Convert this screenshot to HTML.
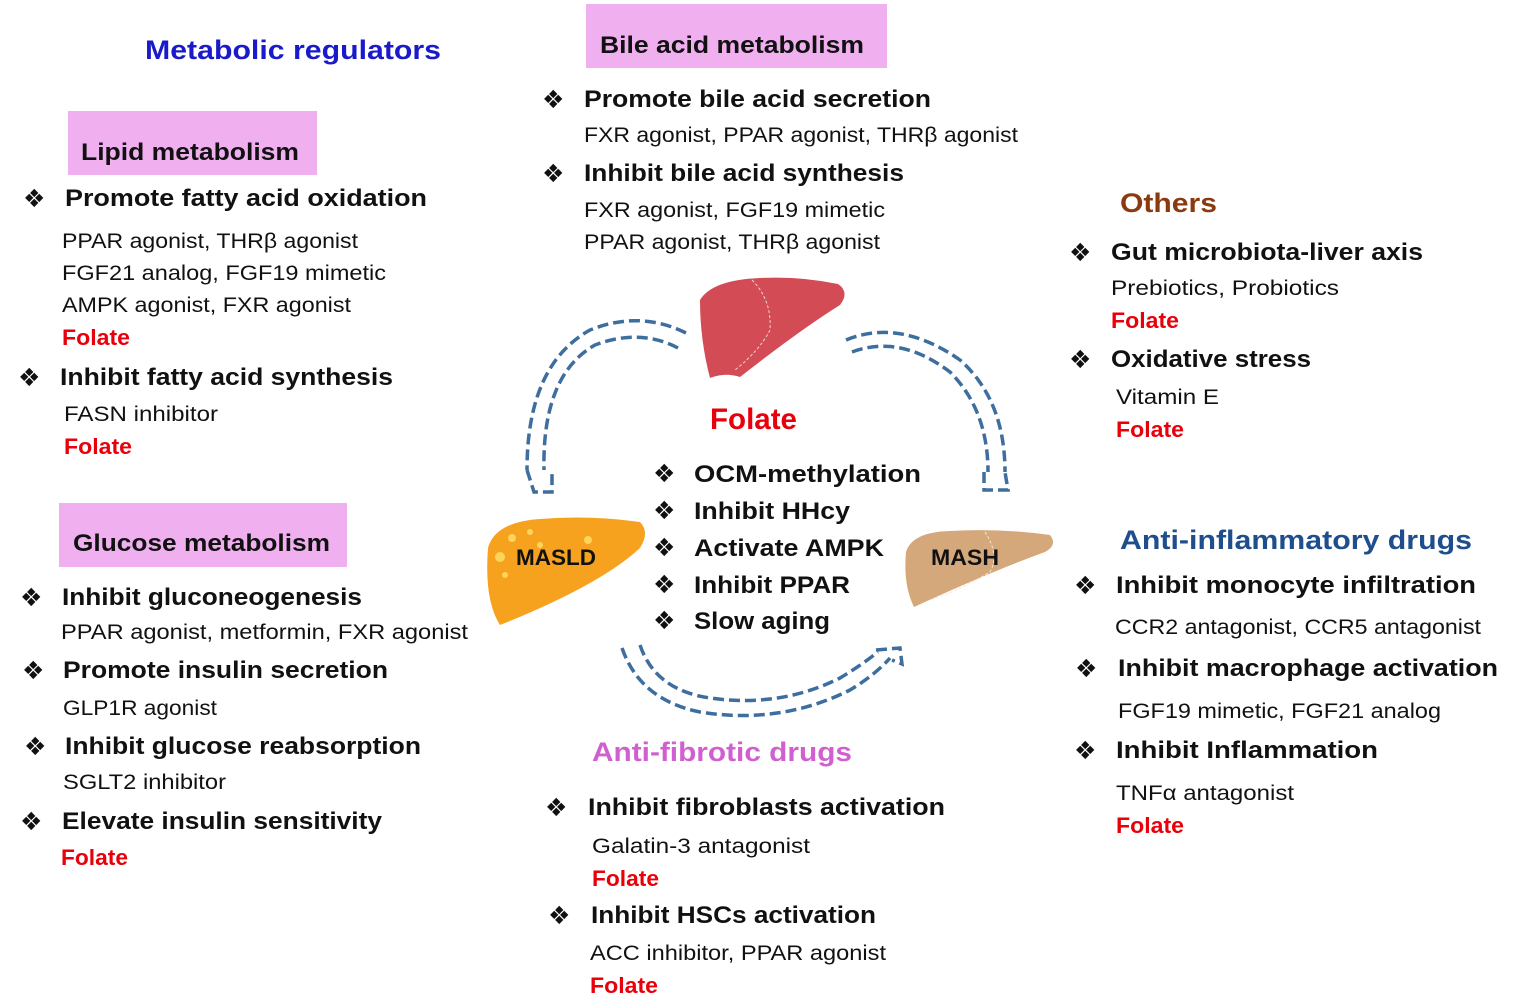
<!DOCTYPE html>
<html><head><meta charset="utf-8"><style>
html,body{margin:0;padding:0;background:#fff;}
svg{display:block;}
text{font-family:"Liberation Sans","DejaVu Sans",sans-serif;}
.h{font-weight:bold;font-size:27px;}
.s{font-weight:bold;font-size:24px;fill:#111;}
.r{font-size:21px;fill:#111;}
.f{font-weight:bold;font-size:22px;fill:#e8000b;}
.b{font-size:25px;fill:#111;font-family:"DejaVu Sans",sans-serif;}
.ar{fill:none;stroke:#3d6e9e;stroke-width:3.5;stroke-dasharray:11 5;}
</style></head><body>
<svg width="1535" height="1005" viewBox="0 0 1535 1005" xmlns="http://www.w3.org/2000/svg">
<rect x="586" y="4" width="301" height="64" fill="#f0b0f0"/>
<rect x="68" y="111" width="249" height="64" fill="#f0b0f0"/>
<rect x="59" y="503" width="288" height="64" fill="#f0b0f0"/>

<text class="h" x="145" y="59" fill="#1a1acc" textLength="296" lengthAdjust="spacingAndGlyphs">Metabolic regulators</text>
<text class="s" x="600" y="53" textLength="264" lengthAdjust="spacingAndGlyphs">Bile acid metabolism</text>
<text class="s" x="81" y="160" textLength="218" lengthAdjust="spacingAndGlyphs">Lipid metabolism</text>
<text class="s" x="73" y="551" textLength="257" lengthAdjust="spacingAndGlyphs">Glucose metabolism</text>

<text class="b" x="23" y="207">❖</text>
<text class="s" x="65" y="206" textLength="362" lengthAdjust="spacingAndGlyphs">Promote fatty acid oxidation</text>
<text class="r" x="62" y="248" textLength="296" lengthAdjust="spacingAndGlyphs">PPAR agonist, THRβ agonist</text>
<text class="r" x="62" y="280" textLength="324" lengthAdjust="spacingAndGlyphs">FGF21 analog, FGF19 mimetic</text>
<text class="r" x="62" y="312" textLength="289" lengthAdjust="spacingAndGlyphs">AMPK agonist, FXR agonist</text>
<text class="f" x="62" y="345" textLength="68" lengthAdjust="spacingAndGlyphs">Folate</text>
<text class="b" x="18" y="386">❖</text>
<text class="s" x="60" y="385" textLength="333" lengthAdjust="spacingAndGlyphs">Inhibit fatty acid synthesis</text>
<text class="r" x="64" y="421" textLength="154" lengthAdjust="spacingAndGlyphs">FASN inhibitor</text>
<text class="f" x="64" y="454" textLength="68" lengthAdjust="spacingAndGlyphs">Folate</text>

<text class="b" x="20" y="606">❖</text>
<text class="s" x="62" y="605" textLength="300" lengthAdjust="spacingAndGlyphs">Inhibit gluconeogenesis</text>
<text class="r" x="61" y="639" textLength="407" lengthAdjust="spacingAndGlyphs">PPAR agonist, metformin, FXR agonist</text>
<text class="b" x="22" y="679">❖</text>
<text class="s" x="63" y="678" textLength="325" lengthAdjust="spacingAndGlyphs">Promote insulin secretion</text>
<text class="r" x="63" y="715" textLength="154" lengthAdjust="spacingAndGlyphs">GLP1R agonist</text>
<text class="b" x="24" y="755">❖</text>
<text class="s" x="65" y="754" textLength="356" lengthAdjust="spacingAndGlyphs">Inhibit glucose reabsorption</text>
<text class="r" x="63" y="789" textLength="163" lengthAdjust="spacingAndGlyphs">SGLT2 inhibitor</text>
<text class="b" x="20" y="830">❖</text>
<text class="s" x="62" y="829" textLength="320" lengthAdjust="spacingAndGlyphs">Elevate insulin sensitivity</text>
<text class="f" x="61" y="865" textLength="67" lengthAdjust="spacingAndGlyphs">Folate</text>

<text class="b" x="542" y="108">❖</text>
<text class="s" x="584" y="107" textLength="347" lengthAdjust="spacingAndGlyphs">Promote bile acid secretion</text>
<text class="r" x="584" y="142" textLength="434" lengthAdjust="spacingAndGlyphs">FXR agonist, PPAR agonist, THRβ agonist</text>
<text class="b" x="542" y="182">❖</text>
<text class="s" x="584" y="181" textLength="320" lengthAdjust="spacingAndGlyphs">Inhibit bile acid synthesis</text>
<text class="r" x="584" y="217" textLength="301" lengthAdjust="spacingAndGlyphs">FXR agonist, FGF19 mimetic</text>
<text class="r" x="584" y="249" textLength="296" lengthAdjust="spacingAndGlyphs">PPAR agonist, THRβ agonist</text>

<text x="710" y="429" font-weight="bold" font-size="30" fill="#e8000b" textLength="87" lengthAdjust="spacingAndGlyphs">Folate</text>
<text class="b" x="653" y="482">❖</text>
<text class="s" x="694" y="482" textLength="227" lengthAdjust="spacingAndGlyphs">OCM-methylation</text>
<text class="b" x="653" y="519">❖</text>
<text class="s" x="694" y="519" textLength="156" lengthAdjust="spacingAndGlyphs">Inhibit HHcy</text>
<text class="b" x="653" y="556">❖</text>
<text class="s" x="694" y="556" textLength="190" lengthAdjust="spacingAndGlyphs">Activate AMPK</text>
<text class="b" x="653" y="593">❖</text>
<text class="s" x="694" y="593" textLength="156" lengthAdjust="spacingAndGlyphs">Inhibit PPAR</text>
<text class="b" x="653" y="629">❖</text>
<text class="s" x="694" y="629" textLength="136" lengthAdjust="spacingAndGlyphs">Slow aging</text>

<path d="M700 300 Q712 280 760 278 Q800 276 838 284 Q850 292 840 305 Q800 330 740 377 Q725 372 710 378 Q700 340 700 300 Z" fill="#d24b55"/>
<path d="M752 280 Q772 300 770 330 Q760 350 735 370" fill="none" stroke="#f4d0d0" stroke-width="1" stroke-dasharray="3 2"/>
<path d="M488 548 Q495 522 540 519 Q590 515 640 522 Q650 532 640 548 Q600 585 500 625 Q484 600 488 548 Z" fill="#f6a21e"/>
<g fill="#fcd55a"><circle cx="512" cy="538" r="4"/><circle cx="530" cy="532" r="3"/><circle cx="500" cy="557" r="5"/><circle cx="588" cy="540" r="4"/><circle cx="505" cy="575" r="3"/><circle cx="540" cy="545" r="3"/></g>
<path d="M906 552 Q912 532 950 531 Q1000 528 1050 535 Q1058 545 1045 552 Q990 572 914 607 Q903 585 906 552 Z" fill="#d4a87a"/>
<path d="M985 532 Q1000 555 990 572 Q960 590 930 600" fill="none" stroke="#f5e6d5" stroke-width="1" stroke-dasharray="3 2"/>
<text x="516" y="565" font-weight="bold" font-size="22" fill="#111" textLength="80" lengthAdjust="spacingAndGlyphs">MASLD</text>
<text x="931" y="565" font-weight="bold" font-size="22" fill="#111" textLength="68" lengthAdjust="spacingAndGlyphs">MASH</text>

<path class="ar" d="M686 333 Q640 310 590 330 Q527 365 527 470"/>
<path class="ar" d="M678 348 Q640 328 595 345 Q542 375 544 470"/>
<path class="ar" d="M527 470 L534 492 L552 492 L552 470"/>
<path class="ar" d="M846 340 Q900 318 960 360 Q1005 400 1005 472"/>
<path class="ar" d="M852 352 Q900 334 950 372 Q988 410 988 472"/>
<path class="ar" d="M984 472 L984 490 L1008 490 L1005 472"/>
<path class="ar" d="M622 648 Q640 700 700 712 Q780 725 850 690 Q875 675 890 658"/>
<path class="ar" d="M640 645 Q655 690 710 698 Q780 708 840 678 Q860 666 878 652"/>
<path class="ar" d="M876 650 L900 648 L902 664 L892 660"/>

<text class="h" x="1120" y="212" fill="#8b3a0f" textLength="97" lengthAdjust="spacingAndGlyphs">Others</text>
<text class="b" x="1069" y="261">❖</text>
<text class="s" x="1111" y="260" textLength="312" lengthAdjust="spacingAndGlyphs">Gut microbiota-liver axis</text>
<text class="r" x="1111" y="295" textLength="228" lengthAdjust="spacingAndGlyphs">Prebiotics, Probiotics</text>
<text class="f" x="1111" y="328" textLength="68" lengthAdjust="spacingAndGlyphs">Folate</text>
<text class="b" x="1069" y="368">❖</text>
<text class="s" x="1111" y="367" textLength="200" lengthAdjust="spacingAndGlyphs">Oxidative stress</text>
<text class="r" x="1116" y="404" textLength="103" lengthAdjust="spacingAndGlyphs">Vitamin E</text>
<text class="f" x="1116" y="437" textLength="68" lengthAdjust="spacingAndGlyphs">Folate</text>

<text class="h" x="1120" y="549" fill="#1f4e8c" textLength="352" lengthAdjust="spacingAndGlyphs">Anti-inflammatory drugs</text>
<text class="b" x="1074" y="594">❖</text>
<text class="s" x="1116" y="593" textLength="360" lengthAdjust="spacingAndGlyphs">Inhibit monocyte infiltration</text>
<text class="r" x="1115" y="634" textLength="366" lengthAdjust="spacingAndGlyphs">CCR2 antagonist, CCR5 antagonist</text>
<text class="b" x="1075" y="677">❖</text>
<text class="s" x="1118" y="676" textLength="380" lengthAdjust="spacingAndGlyphs">Inhibit macrophage activation</text>
<text class="r" x="1118" y="718" textLength="323" lengthAdjust="spacingAndGlyphs">FGF19 mimetic, FGF21 analog</text>
<text class="b" x="1074" y="759">❖</text>
<text class="s" x="1116" y="758" textLength="262" lengthAdjust="spacingAndGlyphs">Inhibit Inflammation</text>
<text class="r" x="1116" y="800" textLength="178" lengthAdjust="spacingAndGlyphs">TNFα antagonist</text>
<text class="f" x="1116" y="833" textLength="68" lengthAdjust="spacingAndGlyphs">Folate</text>

<text class="h" x="592" y="761" fill="#d060d0" textLength="260" lengthAdjust="spacingAndGlyphs">Anti-fibrotic drugs</text>
<text class="b" x="545" y="816">❖</text>
<text class="s" x="588" y="815" textLength="357" lengthAdjust="spacingAndGlyphs">Inhibit fibroblasts activation</text>
<text class="r" x="592" y="853" textLength="218" lengthAdjust="spacingAndGlyphs">Galatin-3 antagonist</text>
<text class="f" x="592" y="886" textLength="67" lengthAdjust="spacingAndGlyphs">Folate</text>
<text class="b" x="548" y="924">❖</text>
<text class="s" x="591" y="923" textLength="285" lengthAdjust="spacingAndGlyphs">Inhibit HSCs activation</text>
<text class="r" x="590" y="960" textLength="296" lengthAdjust="spacingAndGlyphs">ACC inhibitor, PPAR agonist</text>
<text class="f" x="590" y="993" textLength="68" lengthAdjust="spacingAndGlyphs">Folate</text>
</svg>
</body></html>
